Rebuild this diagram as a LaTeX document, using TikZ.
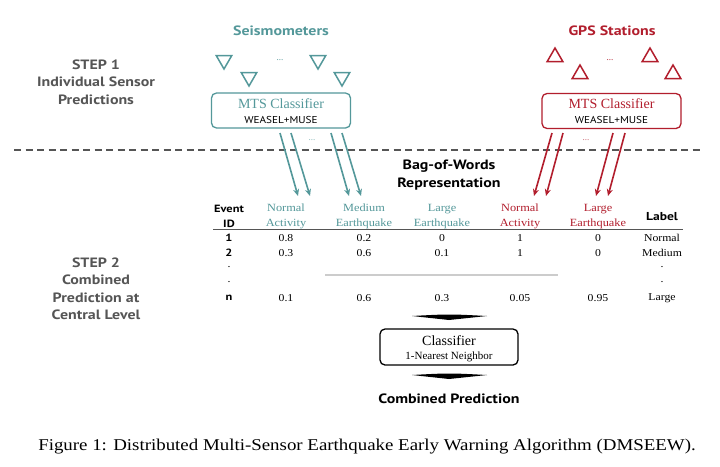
\documentclass[tikz,border=0pt]{standalone}
\usepackage{fontspec}
\setmainfont{Liberation Serif}
\newfontfamily\bsans[FakeStretch=1.18]{PT Sans}
\newfontfamily\rsans[FakeStretch=1.12]{PT Sans}
\newfontfamily\tserif[FakeStretch=1.12]{Liberation Serif}
\newfontfamily\capfont[FakeStretch=1.145]{Liberation Serif}
\usetikzlibrary{shapes.geometric,arrows.meta}
\definecolor{teal1}{RGB}{84,152,154}
\definecolor{red1}{RGB}{178,30,45}
\definecolor{grayt}{RGB}{85,85,85}
\tikzset{
  steplbl/.style={font=\bsans\bfseries\fontsize{13.5}{17.5}\selectfont, text=grayt, align=center},
  blbl/.style={font=\bsans\bfseries\fontsize{13.5}{18}\selectfont, text=black, align=center},
  sensor/.style={regular polygon, regular polygon sides=3, draw, line width=1.5pt, minimum size=18pt, inner sep=0pt},
  mtsbox/.style={draw, rounded corners=5pt, line width=1.3pt, minimum width=139pt, minimum height=35pt},
  tarr/.style={draw=teal1, line width=1.6pt, -{Stealth[length=7pt,width=6pt]}},
  rarr/.style={draw=red1, line width=1.6pt, -{Stealth[length=7pt,width=6pt]}},
  th/.style={font=\tserif\fontsize{11}{14.5}\selectfont, align=center},
  tbh/.style={font=\bsans\bfseries\fontsize{10.5}{14.5}\selectfont, align=center},
  tc/.style={font=\tserif\fontsize{10.5}{12}\selectfont},
  dotl/.style={font=\fontsize{9}{10}\selectfont},
  subl/.style={font=\rsans\fontsize{10}{12}\selectfont},
  chev/.style={fill=black},
}
\begin{document}
\begin{tikzpicture}[x=1pt,y=-1pt]
\useasboundingbox (0,0) rectangle (720,466);
\fill[white] (0,0) rectangle (720,466);
% left labels
\node[steplbl] (s1) at (96,82) {STEP 1\\Individual Sensor\\Predictions};
\node[steplbl] (s2) at (96,289) {STEP 2\\Combined\\Prediction at\\Central Level};
% headings
\node[blbl, text=teal1] (seis) at (281,31) {Seismometers};
\node[blbl, text=red1] (gps) at (612,31) {GPS Stations};
% seismometers
\node[sensor, draw=teal1, shape border rotate=180] (t1) at (224,60) {};
\node[sensor, draw=teal1, shape border rotate=180] (t2) at (249,77) {};
\node[sensor, draw=teal1, shape border rotate=180] (t3) at (318,60) {};
\node[sensor, draw=teal1, shape border rotate=180] (t4) at (342,77) {};
\node[dotl, text=teal1] (td) at (280,60) {...};
% gps
\node[sensor, draw=red1] (g1) at (555,57) {};
\node[sensor, draw=red1] (g2) at (580,74) {};
\node[sensor, draw=red1] (g3) at (650,57) {};
\node[sensor, draw=red1] (g4) at (673,74) {};
\node[dotl, text=red1] (gd) at (610,60) {...};
% MTS boxes
\node[mtsbox, draw=teal1] (mts1) at (281,110.5) {};
\node[text=teal1, font=\fontsize{14}{16}\selectfont] (mts1a) at (281,104) {MTS Classifier};
\node[subl] (mts1b) at (281,120) {WEASEL+MUSE};
\node[mtsbox, draw=red1] (mts2) at (611.5,111) {};
\node[text=red1, font=\fontsize{14}{16}\selectfont] (mts2a) at (611.5,104) {MTS Classifier};
\node[subl] (mts2b) at (611.5,120) {WEASEL+MUSE};
% dashed separator
\coordinate (dl) at (14,150);
\coordinate (dr) at (702,150);
\draw[grayt, line width=1.3pt, dash pattern=on 7pt off 4.5pt] (dl) -- (dr);
% arrows teal
\coordinate (a1s) at (280,133); \coordinate (a1e) at (298,196);
\coordinate (a2s) at (291,133); \coordinate (a2e) at (310,196);
\coordinate (a3s) at (331,133); \coordinate (a3e) at (349,196);
\coordinate (a4s) at (342,133); \coordinate (a4e) at (361,196);
\draw[tarr] (a1s) -- (a1e);
\draw[tarr] (a2s) -- (a2e);
\draw[tarr] (a3s) -- (a3e);
\draw[tarr] (a4s) -- (a4e);
\node[dotl, text=teal1!70] (ad1) at (312,140) {...};
% arrows red
\coordinate (b1s) at (552,133); \coordinate (b1e) at (534,196);
\coordinate (b2s) at (563,133); \coordinate (b2e) at (546,196);
\coordinate (b3s) at (613,133); \coordinate (b3e) at (596,196);
\coordinate (b4s) at (625,133); \coordinate (b4e) at (608,196);
\draw[rarr] (b1s) -- (b1e);
\draw[rarr] (b2s) -- (b2e);
\draw[rarr] (b3s) -- (b3e);
\draw[rarr] (b4s) -- (b4e);
\node[dotl, text=red1!70] (bd1) at (586,140) {...};
% bag of words
\node[blbl] (bow) at (449,175) {Bag-of-Words\\Representation};
% table header
\node[tbh] (hid) at (229,216.5) {Event\\ID};
\node[th, text=teal1] (h1) at (286,216.5) {Normal\\Activity};
\node[th, text=teal1] (h2) at (364,216.5) {Medium\\Earthquake};
\node[th, text=teal1] (h3) at (442,216.5) {Large\\Earthquake};
\node[th, text=red1] (h4) at (520,216.5) {Normal\\Activity};
\node[th, text=red1] (h5) at (598,216.5) {Large\\Earthquake};
\node[tbh, font=\bsans\bfseries\fontsize{11.5}{14}\selectfont] (h6) at (662,216.5) {Label};
\coordinate (rl) at (213,229.5); \coordinate (rr) at (683,229.5);
\draw[grayt, line width=0.8pt] (rl) -- (rr);
% rows
\foreach \y/\id/\a/\b/\c/\d/\e/\l in {238/1/0.8/0.2/0/1/0/Normal, 253/2/0.3/0.6/0.1/1/0/Medium, 298/n/0.1/0.6/0.3/0.05/0.95/Large}{
  \node[tc, font=\bsans\bfseries\fontsize{10.5}{12}\selectfont] at (229,\y) {\id};
  \node[tc] at (286,\y) {\a};
  \node[tc] at (364,\y) {\b};
  \node[tc] at (442,\y) {\c};
  \node[tc] at (520,\y) {\d};
  \node[tc] at (598,\y) {\e};
  \node[tc] at (662,\y) {\l};
}
\node[tc] (d1) at (229,267) {.};
\node[tc] (d2) at (229,282) {.};
\node[tc] (d3) at (662,267) {.};
\node[tc] (d4) at (662,282) {.};
\coordinate (gl) at (325,275); \coordinate (gr) at (558,275);
\draw[black!20, line width=1.2pt] (gl) -- (gr);
% chevrons
\fill[chev] (412,316) .. controls (449,314) .. (487,316) -- (449,320) -- cycle;
\node[draw, rounded corners=5pt, line width=1.3pt, minimum width=138pt, minimum height=36pt] (clf) at (449,347) {};
\node[font=\fontsize{14}{16}\selectfont] (clfa) at (449,341) {Classifier};
\node[font=\fontsize{11}{12}\selectfont] (clfb) at (449,357) {1-Nearest Neighbor};
\fill[chev] (412,375) .. controls (449,373) .. (487,375) -- (449,379) -- cycle;
\node[blbl] (comb) at (449,399) {Combined Prediction};
% caption
\node[font=\capfont\fontsize{16.5}{18}\selectfont] (cap) at (367,447) {Figure 1: Distributed Multi-Sensor Earthquake Early Warning Algorithm (DMSEEW).};
\end{tikzpicture}
\end{document}
